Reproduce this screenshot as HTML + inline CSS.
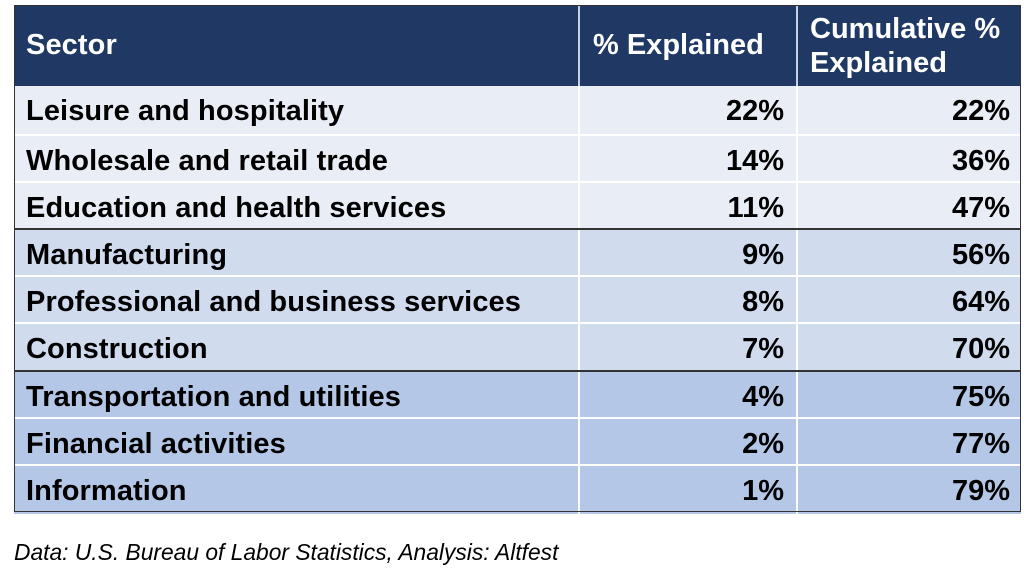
<!DOCTYPE html>
<html><head><meta charset="utf-8"><style>
body{margin:0;width:1024px;height:583px;background:#fff;position:relative;overflow:hidden;font-family:"Liberation Sans",Arial,sans-serif;}
.t{position:absolute;left:14px;top:5px;width:1007px;height:507px;border:1.5px solid #333;box-sizing:border-box;}
.r{position:absolute;left:14px;width:1007px;font-weight:bold;font-size:29px;color:#000;}
.c{position:absolute;top:0;bottom:0;display:flex;align-items:center;box-sizing:border-box;white-space:nowrap;padding-top:3px;}
.c1{left:0;width:564px;padding-left:12px;letter-spacing:0.1px;}
.c2{left:564px;width:218px;justify-content:flex-end;padding-right:12px;border-left:2px solid #fff;}
.c3{left:782px;width:225px;justify-content:flex-end;padding-right:11px;border-left:2px solid #fff;}
.h{top:5px;height:81px;background:#203864;color:#fff;}
.h .c{padding-top:0;}
.h .c2,.h .c3{border-left:2px solid #c8d0e0;}
.h .c2{justify-content:flex-start;padding-left:13px;}
.h .c3{justify-content:flex-start;padding-left:12px;line-height:34px;}
.g1{background:#e9edf6;}.g2{background:#d0dbee;}.g3{background:#b4c7e7;}
.sep{border-top:2px solid #fff;}
.dk{border-top:2px solid #333;}
.note{position:absolute;left:14px;top:539px;font-style:italic;font-size:22.8px;color:#000;}
</style></head><body>
<div class="r h"><div class="c c1">Sector</div><div class="c c2">% Explained</div><div class="c c3">Cumulative %<br>Explained</div></div>
<div class="r g1" style="top:86px;height:48px"><div class="c c1">Leisure and hospitality</div><div class="c c2">22%</div><div class="c c3">22%</div></div>
<div class="r g1 sep" style="top:134px;height:47px"><div class="c c1">Wholesale and retail trade</div><div class="c c2">14%</div><div class="c c3">36%</div></div>
<div class="r g1 sep" style="top:181px;height:47px"><div class="c c1">Education and health services</div><div class="c c2">11%</div><div class="c c3">47%</div></div>
<div class="r g2 dk" style="top:228px;height:47px"><div class="c c1">Manufacturing</div><div class="c c2">9%</div><div class="c c3">56%</div></div>
<div class="r g2 sep" style="top:275px;height:47px"><div class="c c1">Professional and business services</div><div class="c c2">8%</div><div class="c c3">64%</div></div>
<div class="r g2 sep" style="top:322px;height:48px"><div class="c c1">Construction</div><div class="c c2">7%</div><div class="c c3">70%</div></div>
<div class="r g3 dk" style="top:370px;height:47px"><div class="c c1">Transportation and utilities</div><div class="c c2">4%</div><div class="c c3">75%</div></div>
<div class="r g3 sep" style="top:417px;height:47px"><div class="c c1">Financial activities</div><div class="c c2">2%</div><div class="c c3">77%</div></div>
<div class="r g3 sep" style="top:464px;height:48px"><div class="c c1">Information</div><div class="c c2">1%</div><div class="c c3">79%</div></div>
<div class="t"></div>
<div class="note">Data: U.S. Bureau of Labor Statistics, Analysis: Altfest</div>
</body></html>
